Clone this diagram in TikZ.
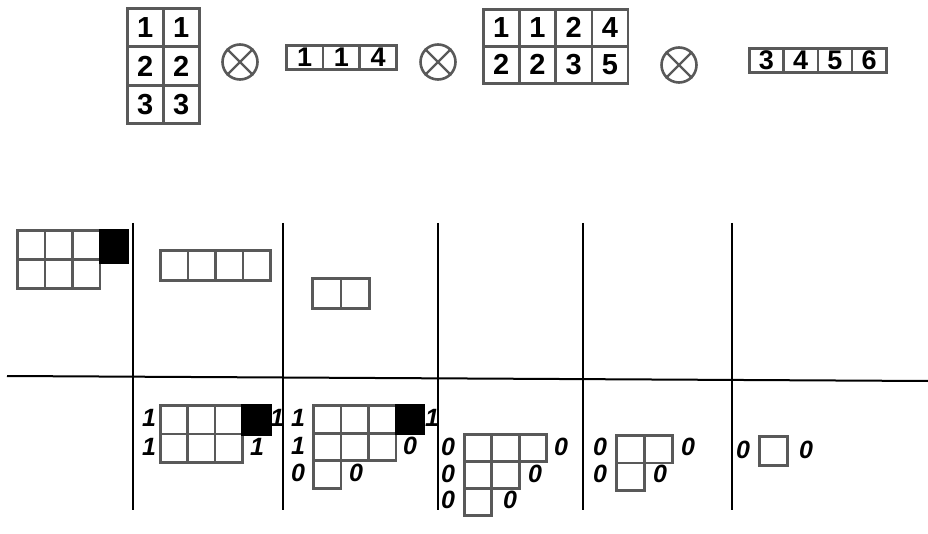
\documentclass[tikz,border=0pt]{standalone}
\usepackage{fontspec}
\setmainfont{Liberation Sans}
\begin{document}
\begin{tikzpicture}[x=1pt,y=-1pt,
  tcell/.style={draw=black!65, line width=2.6pt, anchor=north west, inner sep=0pt,
    minimum width=36pt, minimum height=38.5pt, font=\fontsize{29}{29}\selectfont\bfseries},
  rcell/.style={tcell, minimum height=24pt, font=\fontsize{27}{27}\selectfont\bfseries},
  bcell/.style={draw=black!65, line width=2.9pt, anchor=north west, inner sep=0pt,
    minimum width=27.5pt, minimum height=28pt},
  blk/.style={bcell, fill=black, draw=black},
  lab/.style={font=\fontsize{25}{25}\selectfont\bfseries\itshape, inner sep=0pt},
  otimes/.style={draw=black!65, line width=2.6pt, circle, minimum size=35pt, inner sep=0pt},
  xline/.style={draw=black!65, line width=2.4pt},
  sep/.style={draw=black, line width=2pt}]
\useasboundingbox (0,0) rectangle (928,534);

% ---------- top row ----------
\node[tcell] (a11) at (126,7) {1};
\node[tcell] (a12) at (162,7) {1};
\node[tcell] (a21) at (126,45.5) {2};
\node[tcell] (a22) at (162,45.5) {2};
\node[tcell] (a31) at (126,84) {3};
\node[tcell] (a32) at (162,84) {3};

\node[otimes] (o1) at (240,62) {};
\draw[xline] (o1.north west) -- (o1.south east) (o1.north east) -- (o1.south west);

\node[rcell, minimum width=36.7pt] (b1) at (285,44) {1};
\node[rcell, minimum width=36.7pt] (b2) at (321.7,44) {1};
\node[rcell, minimum width=36.7pt] (b3) at (358.4,44) {4};

\node[otimes] (o2) at (438,62) {};
\draw[xline] (o2.north west) -- (o2.south east) (o2.north east) -- (o2.south west);

\node[tcell, minimum height=37pt] (c11) at (482,8) {1};
\node[tcell, minimum height=37pt] (c12) at (518.25,8) {1};
\node[tcell, minimum height=37pt] (c13) at (554.5,8) {2};
\node[tcell, minimum height=37pt] (c14) at (590.75,8) {4};
\node[tcell, minimum height=37pt] (c21) at (482,45) {2};
\node[tcell, minimum height=37pt] (c22) at (518.25,45) {2};
\node[tcell, minimum height=37pt] (c23) at (554.5,45) {3};
\node[tcell, minimum height=37pt] (c24) at (590.75,45) {5};

\node[otimes] (o3) at (679,65) {};
\draw[xline] (o3.north west) -- (o3.south east) (o3.north east) -- (o3.south west);

\node[rcell, minimum width=34.25pt] (d1) at (748,47) {3};
\node[rcell, minimum width=34.25pt] (d2) at (782.25,47) {4};
\node[rcell, minimum width=34.25pt] (d3) at (816.5,47) {5};
\node[rcell, minimum width=34.25pt] (d4) at (850.75,47) {6};

% ---------- separators ----------
\coordinate (hl) at (7,376);
\coordinate (hr) at (928,381);
\draw[sep] (hl) -- (hr);
\foreach \x/\n in {133/v1,283/v2,438/v3,583/v4,732/v5}{
  \coordinate (\n t) at (\x,223);
  \coordinate (\n b) at (\x,510);
  \draw[sep] (\n t) -- (\n b);
}

% ---------- upper band ----------
% column 0
\foreach \i/\x in {1/16,2/43.5,3/71}{
  \node[bcell, minimum height=29pt] (p1\i) at (\x,229) {};
  \node[bcell, minimum height=29pt] (p2\i) at (\x,258) {};
}
\node[blk, minimum height=32pt] (p14) at (98.5,229) {};
% column 1
\foreach \i/\x in {1/159,2/186.5,3/214,4/241.5}{
  \node[bcell, minimum height=30pt] (q\i) at (\x,249) {};
}
% column 2
\node[bcell, minimum width=28.5pt, minimum height=30pt] (r1) at (311,277) {};
\node[bcell, minimum width=28.5pt, minimum height=30pt] (r2) at (339.5,277) {};

% ---------- lower band ----------
% column 1
\foreach \i/\x in {1/159,2/186.25,3/213.5}{
  \node[bcell, minimum width=27.25pt, minimum height=28.5pt] (s1\i) at (\x,404) {};
  \node[bcell, minimum width=27.25pt, minimum height=28.5pt] (s2\i) at (\x,432.5) {};
}
\node[blk, minimum width=28pt, minimum height=29pt] (s14) at (240.75,404) {};
\node[lab] (sl1) at (149,418) {1};
\node[lab] (sl2) at (149,447) {1};
\node[lab] (sr1) at (277,418) {1};
\node[lab] (sr2) at (257,447) {1};

% column 2
\foreach \i/\x in {1/312,2/339.5,3/367}{
  \node[bcell, minimum height=27.7pt] (t1\i) at (\x,404) {};
  \node[bcell, minimum height=27.7pt] (t2\i) at (\x,431.7) {};
}
\node[blk, minimum height=28pt] (t14) at (394.5,404) {};
\node[bcell, minimum height=27.7pt] (t31) at (312,459.4) {};
\node[lab] (tl1) at (298,418) {1};
\node[lab] (tl2) at (298,446) {1};
\node[lab] (tl3) at (298,473) {0};
\node[lab] (tr1) at (432,418) {1};
\node[lab] (tr2) at (410,446) {0};
\node[lab] (tr3) at (356,473) {0};

% column 3
\foreach \i/\x in {1/463,2/490.3,3/517.6}{
  \node[bcell, minimum width=27.3pt, minimum height=27pt] (u1\i) at (\x,433) {};
}
\foreach \i/\x in {1/463,2/490.3}{
  \node[bcell, minimum width=27.3pt, minimum height=27pt] (u2\i) at (\x,460) {};
}
\node[bcell, minimum width=27.3pt, minimum height=27pt] (u31) at (463,487) {};
\node[lab] (ul1) at (448,447) {0};
\node[lab] (ul2) at (448,474) {0};
\node[lab] (ul3) at (448,500) {0};
\node[lab] (ur1) at (561,447) {0};
\node[lab] (ur2) at (535,474) {0};
\node[lab] (ur3) at (510,500) {0};

% column 4
\node[bcell, minimum width=28pt, minimum height=27.5pt] (w11) at (615,434) {};
\node[bcell, minimum width=28pt, minimum height=27.5pt] (w12) at (643,434) {};
\node[bcell, minimum width=28pt, minimum height=27.5pt] (w21) at (615,461.5) {};
\node[lab] (wl1) at (600,447) {0};
\node[lab] (wl2) at (600,474) {0};
\node[lab] (wr1) at (688,447) {0};
\node[lab] (wr2) at (660,474) {0};

% column 5
\node[bcell, minimum width=28pt, minimum height=29pt] (z1) at (758,435) {};
\node[lab] (zl) at (743,450) {0};
\node[lab] (zr) at (806,450) {0};
\end{tikzpicture}
\end{document}
